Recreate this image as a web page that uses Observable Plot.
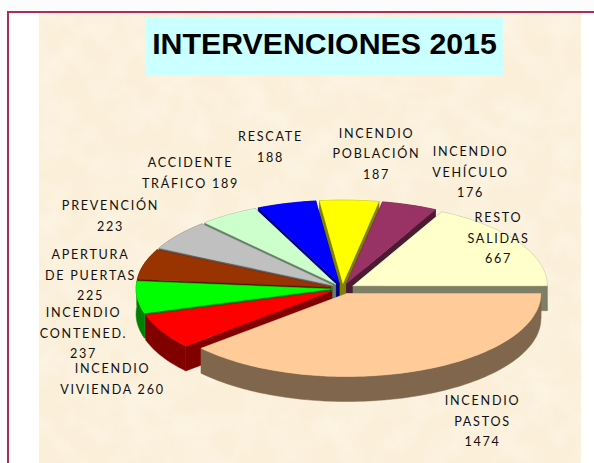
<!DOCTYPE html>
<html>
<head>
<meta charset="utf-8">
<script src="https://cdn.jsdelivr.net/npm/d3@7"></script>
<script src="https://cdn.jsdelivr.net/npm/@observablehq/plot@0.6"></script>
<style>
html,body{margin:0;padding:0;background:#fcfcfc;}
#page{position:relative;width:594px;height:463px;overflow:hidden;}
#frame{position:absolute;left:7px;top:11px;right:0;bottom:0;background:#fff;border-left:2px solid #b02a5c;border-top:2.4px solid #b02a5c;}
#paper{position:absolute;left:39px;top:13.4px;width:542px;bottom:0;background-color:#fbefd9;
background-image:url("data:image/svg+xml,%3Csvg xmlns='http://www.w3.org/2000/svg' width='542' height='450'%3E%3Cfilter id='n' x='0' y='0' width='100%25' height='100%25'%3E%3CfeTurbulence type='fractalNoise' baseFrequency='0.035' numOctaves='4' seed='7'/%3E%3CfeColorMatrix values='0 0 0 0 1 0 0 0 0 0.98 0 0 0 0 0.93 0.7 0 0 0 -0.26'/%3E%3C/filter%3E%3Crect width='542' height='450' filter='url(%23n)'/%3E%3C/svg%3E");}
#title{position:absolute;left:146px;top:18px;width:357px;height:57px;background:#ccffff;color:#000;
font:bold 30.3px/51px "Liberation Sans",Arial,sans-serif;text-align:center;white-space:nowrap;}
#chart{position:absolute;left:0;top:0;}
#chart svg{display:block;}
#chart svg text{letter-spacing:1.75px;}
</style>
</head>
<body>
<div id="page">
  <div id="frame"></div>
  <div id="paper"></div>
  <div id="title">INTERVENCIONES 2015</div>
  <div id="chart"></div>
</div>
<script>
// Data, in the order the slices run (counter-clockwise from the east)
const categories = ["RESTO\nSALIDAS","INCENDIO\nVEHÍCULO","INCENDIO\nPOBLACIÓN","RESCATE","ACCIDENTE\nTRÁFICO","PREVENCIÓN","APERTURA\nDE PUERTAS","INCENDIO\nCONTENED.","INCENDIO\nVIVIENDA","INCENDIO\nPASTOS"];
const values = [667,176,187,188,189,223,225,237,260,1474];
const valueJoin = ["\n","\n","\n","\n"," ","\n","\n","\n"," ","\n"];

// Styles
const topColors = ["#ffffcc","#993366","#ffff00","#0000ff","#ccffcc","#c0c0c0","#993300","#00ff00","#ff0000","#ffcc99"];
const wallColors = ["#7f7f66","#4d1a33","#808000","#000080","#668066","#606060","#4d1a00","#008000","#800000","#80664d"];

// Layout
const cx = 342, cy = 288, rx = 194, ry = 83, depth = 25, explode = 12.5;
const labelCenters = [[498,235.5],[470,169.5],[376,151],[270,144.5],[190,170.5],[110,213.5],[90,272.5],[83,330.5],[112,376.5],[482,418.5]];

const arcs = d3.pie().sort(null).startAngle(0).endAngle(2 * Math.PI)(values);

const polys = [];
function poly(id, color, pts) {
  [...pts, pts[0]].forEach(([x, y]) => polys.push({id, color, x, y}));
}
const order = d3.range(values.length).sort((a, b) =>
  d3.descending(Math.sin((arcs[a].startAngle + arcs[a].endAngle) / 2),
                 Math.sin((arcs[b].startAngle + arcs[b].endAngle) / 2)));

order.forEach(i => {
  const {startAngle: a0, endAngle: a1} = arcs[i];
  const mid = (a0 + a1) / 2;
  const ox = cx + explode * Math.cos(mid);
  const oy = cy - explode * (ry / rx) * Math.sin(mid);
  const steps = Math.max(4, Math.ceil((a1 - a0) / (Math.PI / 120)));
  const rim = d3.range(steps + 1).map(k => {
    const t = a0 + (a1 - a0) * k / steps;
    return [ox + rx * Math.cos(t), oy - ry * Math.sin(t)];
  });
  const down = ([x, y]) => [x, y + depth];
  const apex = [ox, oy];
  const wall = wallColors[i];
  poly(`w${i}s`, wall, [apex, rim[0], down(rim[0]), down(apex)]);
  poly(`w${i}e`, wall, [apex, rim[steps], down(rim[steps]), down(apex)]);
  poly(`w${i}r`, wall, [...rim, ...rim.map(down).reverse()]);
  poly(`t${i}`, topColors[i], [apex, ...rim]);
});

const labels = categories.map((c, i) => ({
  text: c + valueJoin[i] + values[i],
  x: labelCenters[i][0],
  y: labelCenters[i][1]
}));

const chart = Plot.plot({
  width: 594, height: 463,
  margin: 0,
  x: {domain: [0, 594], range: [0, 594], axis: null},
  y: {domain: [0, 463], range: [0, 463], axis: null},
  color: {type: "identity"},
  style: {background: "transparent"},
  marks: [
    Plot.line(polys, {x: "x", y: "y", z: "id", fill: "color", stroke: "color", strokeWidth: 0.5, curve: "linear"}),
    Plot.text(labels, {x: "x", y: "y", text: "text", fontSize: 12.6, lineHeight: 1.63, fill: "#111",
      fontFamily: "Lato, sans-serif", textAnchor: "middle"})
  ]
});
document.getElementById("chart").append(chart);
</script>
</body>
</html>
